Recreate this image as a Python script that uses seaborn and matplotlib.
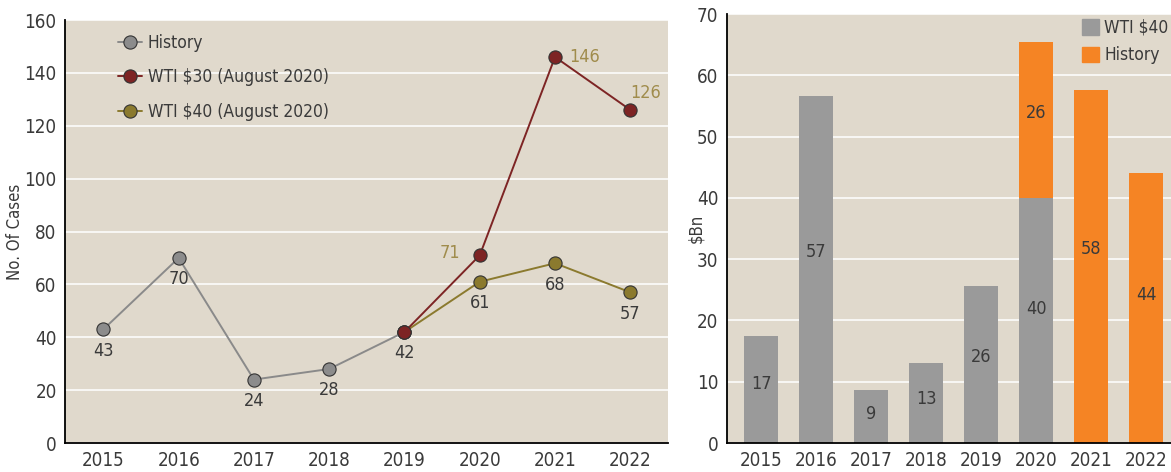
import matplotlib
matplotlib.use("Agg")
import matplotlib.pyplot as plt
from matplotlib import font_manager
from matplotlib.patches import Patch
import seaborn as sns
import pandas as pd

# --- data -------------------------------------------------------------
years = ["2015", "2016", "2017", "2018", "2019", "2020", "2021", "2022"]

history_years = ["2015", "2016", "2017", "2018", "2019"]
history_cases = [43, 70, 24, 28, 42]

wti30_years = ["2019", "2020", "2021", "2022"]
wti30_cases = [42, 71, 146, 126]

wti40_years = ["2019", "2020", "2021", "2022"]
wti40_cases = [42, 61, 68, 57]

bar_wti40 = [17.4, 56.7, 8.6, 13.1, 25.6, 39.9, 0, 0]
bar_history = [0, 0, 0, 0, 0, 25.5, 57.6, 44.0]

# --- style ------------------------------------------------------------
sns.set_theme(style="white")
names = {f.name for f in font_manager.fontManager.ttflist}
family = "Liberation Sans Narrow" if "Liberation Sans Narrow" in names else "DejaVu Sans"
plt.rcParams["font.family"] = [family, "DejaVu Sans"]
if family == "DejaVu Sans":
    plt.rcParams["font.stretch"] = "condensed"

BG = "#e0d9cc"
TXT = "#3a3a3a"
GREY_LINE = "#8a8a8a"
RED = "#7d2424"
OLIVE = "#8b7a2e"
LABEL_GOLD = "#a08c4c"
BAR_GREY = "#9a9a9a"
BAR_ORANGE = "#f58424"

fig = plt.figure(figsize=(11.71, 4.72), dpi=100)
ax1 = fig.add_axes([0.0555, 0.0614, 0.5149, 0.8962])
ax2 = fig.add_axes([0.6208, 0.0614, 0.3792, 0.9089])

for ax in (ax1, ax2):
    ax.set_facecolor(BG)
    for s in ("top", "right"):
        ax.spines[s].set_visible(False)
    for s in ("left", "bottom"):
        ax.spines[s].set_color("black")
        ax.spines[s].set_linewidth(1.3)
    ax.tick_params(length=0, labelsize=13.5, colors=TXT, pad=6)
    ax.yaxis.grid(True, color="white", linewidth=1.1)
    ax.set_axisbelow(True)

# --- left: number of cases --------------------------------------------
idx = {y: i for i, y in enumerate(years)}
df_hist = pd.DataFrame({"x": [idx[y] for y in history_years], "v": history_cases})
df_30 = pd.DataFrame({"x": [idx[y] for y in wti30_years], "v": wti30_cases})
df_40 = pd.DataFrame({"x": [idx[y] for y in wti40_years], "v": wti40_cases})

mk = dict(marker="o", markersize=9.5, markeredgecolor="#333333", markeredgewidth=0.8, linewidth=1.4)
sns.lineplot(data=df_hist, x="x", y="v", ax=ax1, color=GREY_LINE, markerfacecolor="#8c8c8c",
             label="History", **mk)
sns.lineplot(data=df_40, x="x", y="v", ax=ax1, color=OLIVE, markerfacecolor=OLIVE,
             label="WTI $40 (August 2020)", **mk)
sns.lineplot(data=df_30, x="x", y="v", ax=ax1, color=RED, markerfacecolor=RED,
             label="WTI $30 (August 2020)", **mk)

lab = dict(fontsize=13, color=TXT, ha="center", va="top")
for x, v in zip(df_hist["x"], df_hist["v"]):
    if x == idx["2019"]:
        continue
    ax1.annotate(str(v), (x, v), xytext=(0, -9), textcoords="offset points", **lab)
for x, v in zip(df_40["x"], df_40["v"]):
    ax1.annotate(str(v), (x, v), xytext=(0, -9), textcoords="offset points", **lab)

offsets = {"2020": ((-14, 2), "right", "center"),
           "2021": ((10, 0), "left", "center"),
           "2022": ((0, 6), "left", "bottom")}
for y, v in zip(wti30_years, wti30_cases):
    if y in offsets:
        off, ha, va = offsets[y]
        ax1.annotate(str(v), (idx[y], v), xytext=off, textcoords="offset points",
                     fontsize=13, color=LABEL_GOLD, ha=ha, va=va)

ax1.set_xlim(-0.51, 7.5)
ax1.set_ylim(0, 160)
ax1.set_yticks(range(0, 161, 20))
ax1.set_xticks(range(len(years)))
ax1.set_xticklabels(years)
ax1.set_xlabel("")
ax1.set_ylabel("No. Of Cases", fontsize=12, color=TXT)
ax1.yaxis.set_label_coords(-0.068, 0.5)

h, l = ax1.get_legend_handles_labels()
order = [l.index("History"), l.index("WTI $30 (August 2020)"), l.index("WTI $40 (August 2020)")]
ax1.legend([h[i] for i in order], [l[i] for i in order], loc="upper left",
           bbox_to_anchor=(0.062, 1.004), frameon=False, fontsize=12.5,
           labelspacing=0.95, handlelength=1.4, handletextpad=0.3, labelcolor=TXT)

# --- right: $Bn --------------------------------------------------------
totals = [g + o for g, o in zip(bar_wti40, bar_history)]
df_bar = pd.DataFrame({"year": years, "total": totals, "grey": bar_wti40})
sns.barplot(data=df_bar, x="year", y="total", ax=ax2, color=BAR_ORANGE, width=0.62,
            saturation=1, linewidth=0)
sns.barplot(data=df_bar, x="year", y="grey", ax=ax2, color=BAR_GREY, width=0.62,
            saturation=1, linewidth=0)

for i, (g, o) in enumerate(zip(bar_wti40, bar_history)):
    if g > 0:
        ax2.text(i, g * 0.55, f"{g:.0f}", ha="center", va="center", fontsize=13, color=TXT)
    if o > 0:
        ax2.text(i, g + o * 0.55, f"{o:.0f}", ha="center", va="center", fontsize=13, color=TXT)

ax2.set_xlim(-0.627, 7.45)
ax2.set_ylim(0, 70)
ax2.set_yticks(range(0, 71, 10))
ax2.set_xlabel("")
ax2.set_ylabel("$Bn", fontsize=12, color=TXT)
ax2.yaxis.set_label_coords(-0.05, 0.5)
ax2.legend(handles=[Patch(color=BAR_GREY, label="WTI $40"), Patch(color=BAR_ORANGE, label="History")],
           loc="upper right", bbox_to_anchor=(1.03, 1.025), frameon=False, fontsize=12.5,
           handlelength=1.0, handleheight=1.0, handletextpad=0.3, labelspacing=0.55,
           labelcolor=TXT)

fig.savefig("out.png", dpi=100, facecolor="white")
